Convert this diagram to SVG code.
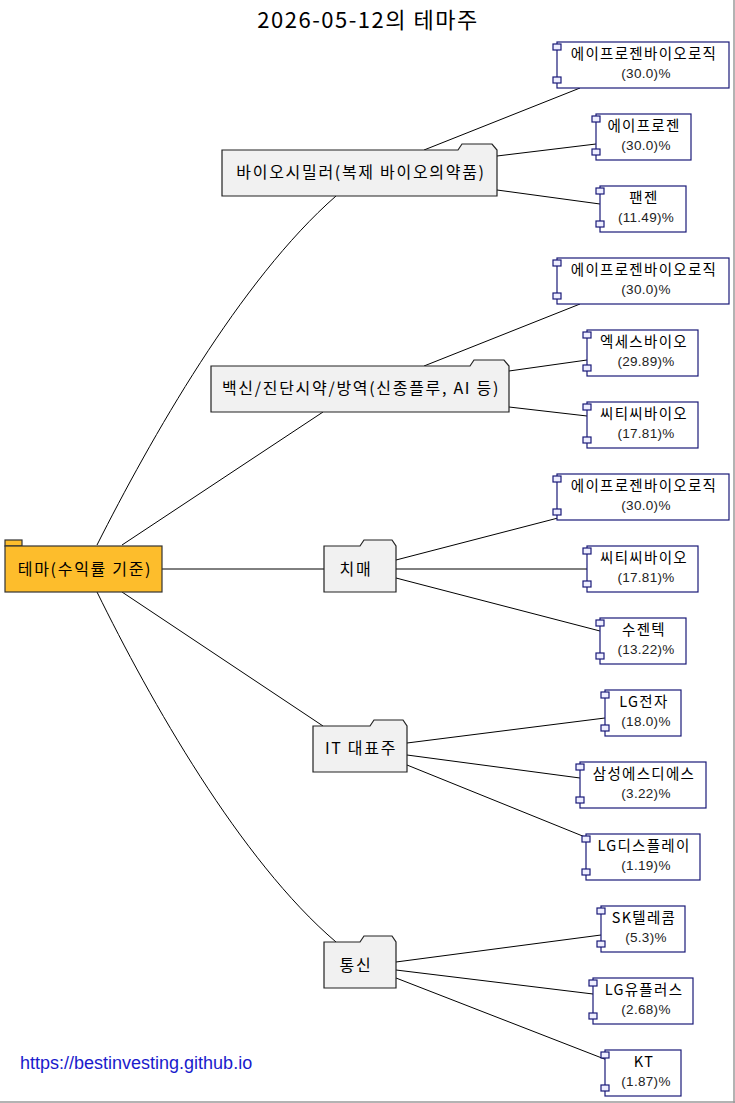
<svg xmlns="http://www.w3.org/2000/svg" width="735" height="1103" viewBox="0 0 735 1103">
<style>
.bg{fill:#ffffff}
.t{font-family:"Noto Sans CJK KR","Liberation Sans",sans-serif;fill:#000;text-anchor:middle}
.th{font-size:16px;letter-spacing:1.7px}
.cn{font-size:14.5px;letter-spacing:1.3px}
.cp{font-family:"Liberation Sans","Noto Sans CJK KR",sans-serif;font-size:13.5px;fill:#222;letter-spacing:0.3px}
.fold{fill:#f1f1f1;stroke:#222;stroke-width:1.2}
.root{fill:#fdbd2c;stroke:#333;stroke-width:1.2}
.comp{fill:#fff;stroke:#1a1a78;stroke-width:1.2}
.port{fill:#eeeeff;stroke:#1a1a78;stroke-width:1.2}
.edge{fill:none;stroke:#000;stroke-width:1}
</style>
<rect class="bg" x="0" y="0" width="735" height="1103"/>
<line x1="734" y1="0" x2="734" y2="1103" stroke="#9a9a9a" stroke-width="1.5"/>
<line x1="0" y1="1102" x2="735" y2="1102" stroke="#9a9a9a" stroke-width="1.5"/>
<text x="368" y="28" font-family="'Noto Sans CJK KR','Liberation Sans',sans-serif" font-size="22" letter-spacing="1.5" text-anchor="middle" fill="#000">2026-05-12의 테마주</text>
<g id="edges">
<path class="edge" d="M97,545 C150,440 240,280 336,196"/>
<path class="edge" d="M122,545 L323,412"/>
<path class="edge" d="M162,569 L324,569"/>
<path class="edge" d="M122,592 L323,726"/>
<path class="edge" d="M97,592 C150,700 240,860 336,942"/>
<path class="edge" d="M424,150 L580,88"/>
<path class="edge" d="M497,156 L596,144"/>
<path class="edge" d="M497,190 L600,204"/>
<path class="edge" d="M424,366 L580,304"/>
<path class="edge" d="M509,371 L587,360"/>
<path class="edge" d="M509,407 L587,416"/>
<path class="edge" d="M396,560 L558,518"/>
<path class="edge" d="M396,569 L587,569"/>
<path class="edge" d="M396,578 L600,631"/>
<path class="edge" d="M407,743 L605,718"/>
<path class="edge" d="M407,755 L580,778"/>
<path class="edge" d="M407,765 L590,839"/>
<path class="edge" d="M396,962 L601,935"/>
<path class="edge" d="M396,970 L593,994"/>
<path class="edge" d="M396,978 L607,1060"/>
</g>
<g id="root">
<rect class="root" x="5" y="540" width="17" height="6"/>
<rect class="root" x="5" y="546" width="157" height="46"/>
<text class="t th" x="85" y="575">테마(수익률 기준)</text>
</g>
<g id="theme1">
<path class="fold" d="M222,150 L458,150 L462,144 L492,144 L497,150 L497,196 L222,196 Z"/>
<text class="t th" x="361" y="178">바이오시밀러(복제 바이오의약품)</text>
</g>
<g id="theme2">
<path class="fold" d="M211,366 L470,366 L474,360 L504,360 L509,366 L509,412 L211,412 Z"/>
<text class="t th" x="361" y="394">백신/진단시약/방역(신종플루, AI 등)</text>
</g>
<g id="theme3">
<path class="fold" d="M324,546 L360,546 L364,540 L392,540 L396,546 L396,592 L324,592 Z"/>
<text class="t th" x="356" y="575">치매</text>
</g>
<g id="theme4">
<path class="fold" d="M313,726 L370,726 L374,720 L403,720 L407,726 L407,772 L313,772 Z"/>
<text class="t th" x="361" y="754">IT 대표주</text>
</g>
<g id="theme5">
<path class="fold" d="M324,942 L360,942 L364,936 L392,936 L396,942 L396,988 L324,988 Z"/>
<text class="t th" x="356" y="971">통신</text>
</g>
<g id="c1a"><rect class="comp" x="557" y="42" width="172" height="46"/><rect class="port" x="553" y="44" width="8" height="6"/><rect class="port" x="553" y="77" width="8" height="6"/><text class="t cn" x="644" y="59">에이프로젠바이오로직</text><text class="t cp" x="646" y="78">(30.0)%</text></g>
<g id="c1b"><rect class="comp" x="596" y="114" width="95" height="46"/><rect class="port" x="592" y="116" width="8" height="6"/><rect class="port" x="592" y="149" width="8" height="6"/><text class="t cn" x="644" y="131">에이프로젠</text><text class="t cp" x="646" y="150">(30.0)%</text></g>
<g id="c1c"><rect class="comp" x="600" y="186" width="86" height="46"/><rect class="port" x="596" y="188" width="8" height="6"/><rect class="port" x="596" y="221" width="8" height="6"/><text class="t cn" x="644" y="203">팬젠</text><text class="t cp" x="646" y="222">(11.49)%</text></g>
<g id="c2a"><rect class="comp" x="557" y="258" width="172" height="46"/><rect class="port" x="553" y="260" width="8" height="6"/><rect class="port" x="553" y="293" width="8" height="6"/><text class="t cn" x="644" y="275">에이프로젠바이오로직</text><text class="t cp" x="646" y="294">(30.0)%</text></g>
<g id="c2b"><rect class="comp" x="587" y="330" width="111" height="46"/><rect class="port" x="583" y="332" width="8" height="6"/><rect class="port" x="583" y="365" width="8" height="6"/><text class="t cn" x="644" y="347">엑세스바이오</text><text class="t cp" x="646" y="366">(29.89)%</text></g>
<g id="c2c"><rect class="comp" x="587" y="402" width="111" height="46"/><rect class="port" x="583" y="404" width="8" height="6"/><rect class="port" x="583" y="437" width="8" height="6"/><text class="t cn" x="644" y="419">씨티씨바이오</text><text class="t cp" x="646" y="438">(17.81)%</text></g>
<g id="c3a"><rect class="comp" x="557" y="474" width="172" height="46"/><rect class="port" x="553" y="476" width="8" height="6"/><rect class="port" x="553" y="509" width="8" height="6"/><text class="t cn" x="644" y="491">에이프로젠바이오로직</text><text class="t cp" x="646" y="510">(30.0)%</text></g>
<g id="c3b"><rect class="comp" x="587" y="546" width="111" height="46"/><rect class="port" x="583" y="548" width="8" height="6"/><rect class="port" x="583" y="581" width="8" height="6"/><text class="t cn" x="644" y="563">씨티씨바이오</text><text class="t cp" x="646" y="582">(17.81)%</text></g>
<g id="c3c"><rect class="comp" x="600" y="618" width="86" height="46"/><rect class="port" x="596" y="620" width="8" height="6"/><rect class="port" x="596" y="653" width="8" height="6"/><text class="t cn" x="644" y="635">수젠텍</text><text class="t cp" x="646" y="654">(13.22)%</text></g>
<g id="c4a"><rect class="comp" x="605" y="690" width="76" height="46"/><rect class="port" x="601" y="692" width="8" height="6"/><rect class="port" x="601" y="725" width="8" height="6"/><text class="t cn" x="644" y="707">LG전자</text><text class="t cp" x="646" y="726">(18.0)%</text></g>
<g id="c4b"><rect class="comp" x="580" y="762" width="126" height="46"/><rect class="port" x="576" y="764" width="8" height="6"/><rect class="port" x="576" y="797" width="8" height="6"/><text class="t cn" x="644" y="779">삼성에스디에스</text><text class="t cp" x="646" y="798">(3.22)%</text></g>
<g id="c4c"><rect class="comp" x="586" y="834" width="114" height="46"/><rect class="port" x="582" y="836" width="8" height="6"/><rect class="port" x="582" y="869" width="8" height="6"/><text class="t cn" x="644" y="851">LG디스플레이</text><text class="t cp" x="646" y="870">(1.19)%</text></g>
<g id="c5a"><rect class="comp" x="601" y="906" width="84" height="46"/><rect class="port" x="597" y="908" width="8" height="6"/><rect class="port" x="597" y="941" width="8" height="6"/><text class="t cn" x="644" y="923">SK텔레콤</text><text class="t cp" x="646" y="942">(5.3)%</text></g>
<g id="c5b"><rect class="comp" x="593" y="978" width="100" height="46"/><rect class="port" x="589" y="980" width="8" height="6"/><rect class="port" x="589" y="1013" width="8" height="6"/><text class="t cn" x="644" y="995">LG유플러스</text><text class="t cp" x="646" y="1014">(2.68)%</text></g>
<g id="c5c"><rect class="comp" x="605" y="1050" width="76" height="46"/><rect class="port" x="601" y="1052" width="8" height="6"/><rect class="port" x="601" y="1085" width="8" height="6"/><text class="t cn" x="644" y="1067">KT</text><text class="t cp" x="646" y="1086">(1.87)%</text></g>
<text x="20" y="1069" font-family="'Liberation Sans',Arial,sans-serif" font-size="18" fill="#1a1acc">https://bestinvesting.github.io</text>
</svg>
